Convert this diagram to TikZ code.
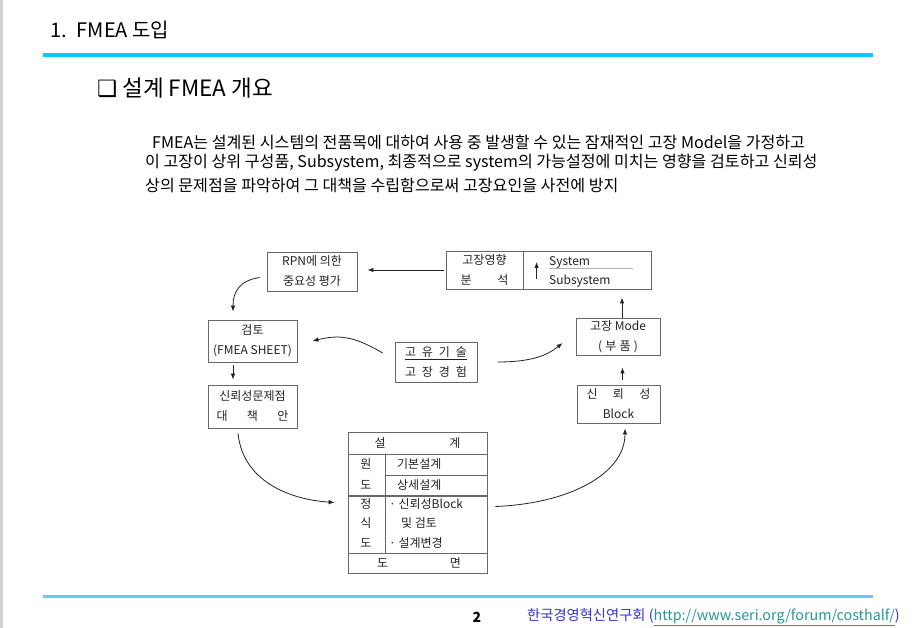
\documentclass[tikz,border=0pt]{standalone}
\usepackage{fontspec}
\setmainfont{Noto Sans CJK KR}
\newfontfamily\symfont{DejaVu Sans}
\usetikzlibrary{arrows.meta}
\definecolor{cyanbar}{RGB}{0,204,255}
\definecolor{footbar}{RGB}{102,204,255}
\definecolor{seriblue}{RGB}{51,51,204}
\definecolor{urlteal}{RGB}{40,150,150}
\definecolor{scan}{RGB}{35,35,35}
\definecolor{frame}{RGB}{105,105,105}

\begin{document}
\begin{tikzpicture}[x=1pt,y=-1pt,
   box/.style={draw=frame,line width=0.8pt,inner sep=0pt,align=center,text=scan,font=\fontsize{12}{20}\selectfont},
   txt/.style={inner sep=0pt,text=scan,font=\fontsize{12}{12}\selectfont},
   arr/.style={draw=scan,line width=0.8pt,-{Latex[length=6pt,width=4.5pt]}}]
   \useasboundingbox[fill=white] (0,0) rectangle (914,628);
   \fill[gray!35] (0,0) rectangle (3,628);

   % page header
   \node[anchor=west,inner sep=0pt,font=\fontsize{20}{20}\selectfont] (title) at (50,30) {1.\enspace FMEA 도입};
   \draw[cyanbar,line width=4.5pt] (43,55) -- (873,55);
   \node[anchor=west,inner sep=0pt,font=\fontsize{22.5}{22.5}\selectfont] (subtitle) at (97,88) {{\symfont ❑} 설계 FMEA 개요};
   \node[anchor=west,inner sep=0pt,font=\fontsize{16.1}{16}\selectfont] (para1) at (152,142) {FMEA는 설계된 시스템의 전품목에 대하여 사용 중 발생할 수 있는 잠재적인 고장 Model을 가정하고};
   \node[anchor=west,inner sep=0pt,font=\fontsize{16.1}{16}\selectfont] (para2) at (145,163) {이 고장이 상위 구성품, Subsystem, 최종적으로 system의 가능설정에 미치는 영향을 검토하고 신뢰성};
   \node[anchor=west,inner sep=0pt,font=\fontsize{16.1}{16}\selectfont] (para3) at (145,185) {상의 문제점을 파악하여 그 대책을 수립함으로써 고장요인을 사전에 방지};

   % cycle
   \node[box,minimum width=90,minimum height=39] (rpn) at (312,271.5) {RPN에 의한\\중요성 평가};
   \node[box,minimum width=77,minimum height=38] (effl) at (484.5,270) {고장영향\\\makebox[48pt]{분\hfill 석}};
   \node[box,minimum width=128,minimum height=38] (effr) at (587,270) {};
   \node[txt,anchor=west] (sys) at (549,262) {System};
   \node[txt,anchor=west] (subsys) at (549,281) {Subsystem};
   \draw[gray!60] ([yshift=-3.5pt]sys.base west) -- ++(84,0);
   \draw[arr] ([shift={(14,9)}]effr.west) -- ([shift={(14,-8)}]effr.west);

   \node[box,minimum width=89,minimum height=42] (review) at (252.5,341) {검토\\(FMEA SHEET)};
   \node[box,minimum width=89,minimum height=43] (issue) at (252.5,406.5) {신뢰성문제점\\\makebox[72pt]{대\hfill 책\hfill 안}};
   \node[box,minimum width=82,minimum height=40] (tech) at (436,362) {\underline{\makebox[62pt]{고\hfill 유\hfill 기\hfill 술}}\\\makebox[62pt]{고\hfill 장\hfill 경\hfill 험}};
   \node[box,minimum width=84,minimum height=37] (mode) at (618,336.5) {고장 Mode\\\makebox[40pt]{(\hfill 부\hfill 품\hfill )}};
   \node[box,minimum width=83,minimum height=38] (block) at (618.5,404) {\makebox[64pt]{신\hfill 뢰\hfill 성}\\Block};

   % design table
   \node[draw=frame,line width=0.8pt,minimum width=139,minimum height=141,inner sep=0pt] (tbl) at (417.5,502.5) {};
   \draw[frame,line width=0.8pt] (348,454) -- (487,454);
   \draw[frame,line width=0.8pt] (385,475) -- (487,475);
   \draw[frame,line width=1.1pt] (348,496) -- (487,496);
   \draw[frame,line width=0.8pt] (348,553) -- (487,553);
   \draw[frame,line width=0.8pt] (385,454) -- (385,553);
   \node[txt] (thead) at (417.5,443) {\makebox[86pt]{설\hfill 계}};
   \node[txt] (tc1) at (366,464) {원};
   \node[txt] (tc2) at (366,485) {도};
   \node[txt] (tc3) at (366,504) {정};
   \node[txt] (tc4) at (366,523) {식};
   \node[txt] (tc5) at (366,543) {도};
   \node[txt,anchor=west] (tr1) at (397,464) {기본설계};
   \node[txt,anchor=west] (tr2) at (397,485) {상세설계};
   \node[txt,anchor=west] (tr3) at (389,504) {· 신뢰성Block};
   \node[txt,anchor=west] (tr4) at (401,523) {및 검토};
   \node[txt,anchor=west] (tr5) at (389,543) {· 설계변경};
   \node[txt] (tfoot) at (419,563) {\makebox[84pt]{도\hfill 면}};

   % connectors
   \draw[arr,shorten <=2pt,shorten >=10pt] (effl.west) -- (rpn.east |- effl.west);
   \draw[arr] ([shift={(-7,6)}]rpn.west) .. controls +(-20,3) and +(0,-20) .. ([shift={(-19.5,-8)}]review.north);
   \draw[arr,shorten <=3pt,shorten >=5pt] ([xshift=-19.5pt]review.south) -- ([xshift=-19.5pt]issue.north);
   \draw[arr] ([shift={(-14.5,5)}]issue.south) .. controls +(5,48) and +(-45,-3) .. ([xshift=-13pt]tbl.west);
   \draw[arr] ([shift={(8,4)}]tbl.east) .. controls +(75,-3) and +(0,45) .. ([shift={(6.5,5)}]block.south);
   \draw[arr,shorten <=5pt,shorten >=12pt] ([xshift=4pt]block.north) -- ([xshift=4pt]block.north |- mode.south);
   \draw[arr,shorten >=8pt] ([xshift=4pt]mode.north) -- ([xshift=4pt]mode.north |- effr.south);
   \draw[arr] ([shift={(-12,-9)}]tech.west) .. controls +(-30,-18) and +(25,-6) .. ([xshift=15pt]review.east);
   \draw[arr] ([xshift=20pt]tech.east) .. controls +(35,0) and +(-15,12) .. ([shift={(-13,6.5)}]mode.west);

   % page footer
   \draw[footbar,line width=3pt] (43,596) -- (873,596);
   \node[inner sep=0pt,font=\bfseries\fontsize{14}{14}\selectfont] (pagenum) at (477,617) {2};
   \node[anchor=west,inner sep=0pt,text=seriblue,font=\fontsize{14.3}{14}\selectfont] (org) at (527,617) {한국경영혁신연구회 (\textcolor{urlteal}{\underline{http://www.seri.org/forum/costhalf/}})};
\end{tikzpicture}
\end{document}
